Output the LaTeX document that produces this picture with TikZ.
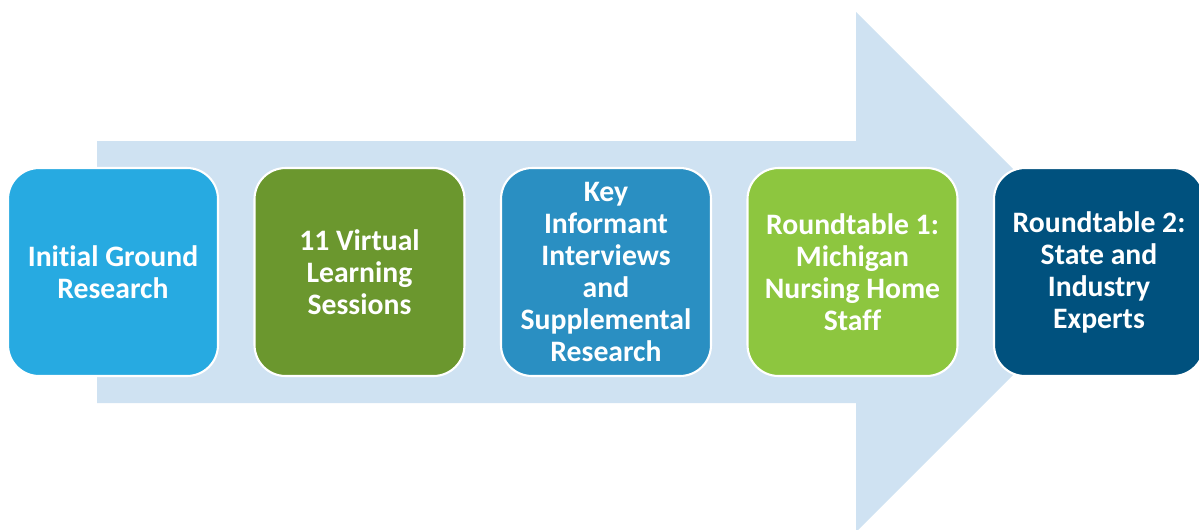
\documentclass[tikz,border=0pt]{standalone}
\usepackage{fontspec}
\setmainfont{Carlito}[Ligatures=NoCommon]
\definecolor{muiten}{RGB}{207,226,242}
\definecolor{xanh1}{RGB}{39,170,225}
\definecolor{xanhla1}{RGB}{107,151,46}
\definecolor{xanh2}{RGB}{42,143,194}
\definecolor{xanhla2}{RGB}{141,198,63}
\definecolor{xanh3}{RGB}{0,81,126}
\tikzset{
	buoc/.style={draw=white,line width=1.2pt,rounded corners=0.62cm,
		minimum width=4.2cm,minimum height=4.16cm,inner sep=0pt,
		align=center,text=white,font=\fontsize{16.9}{18.2}\selectfont\bfseries}
}
\begin{document}
\begin{tikzpicture}[line join=round,x=0.02cm,y=-0.02cm]
	\useasboundingbox (0,0) rectangle (1199,529); %khung hinh
	% Ve mui ten nen
	\fill[muiten] (97,141) -- (856,141) -- (856,12) -- (1116,272)
	-- (856,532) -- (856,403) -- (97,403) -- cycle;
	% Cac buoc
	\node[buoc,fill=xanh1] (ground) at (113,272) {Initial Ground\\Research};
	\node[buoc,fill=xanhla1] (virtual) at (359.5,272) {11 Virtual\\Learning\\Sessions};
	\node[buoc,fill=xanh2] (informant) at (606,272)
	{Key\\Informant\\Interviews\\and\\Supplemental\\Research};
	\node[buoc,fill=xanhla2] (round1) at (852.5,272)
	{Roundtable 1:\\Michigan\\Nursing Home\\Staff};
	\node[buoc,fill=xanh3] (round2) at (1099,272)
	{Roundtable 2:\\State and\\Industry\\Experts};
\end{tikzpicture}
\end{document}
